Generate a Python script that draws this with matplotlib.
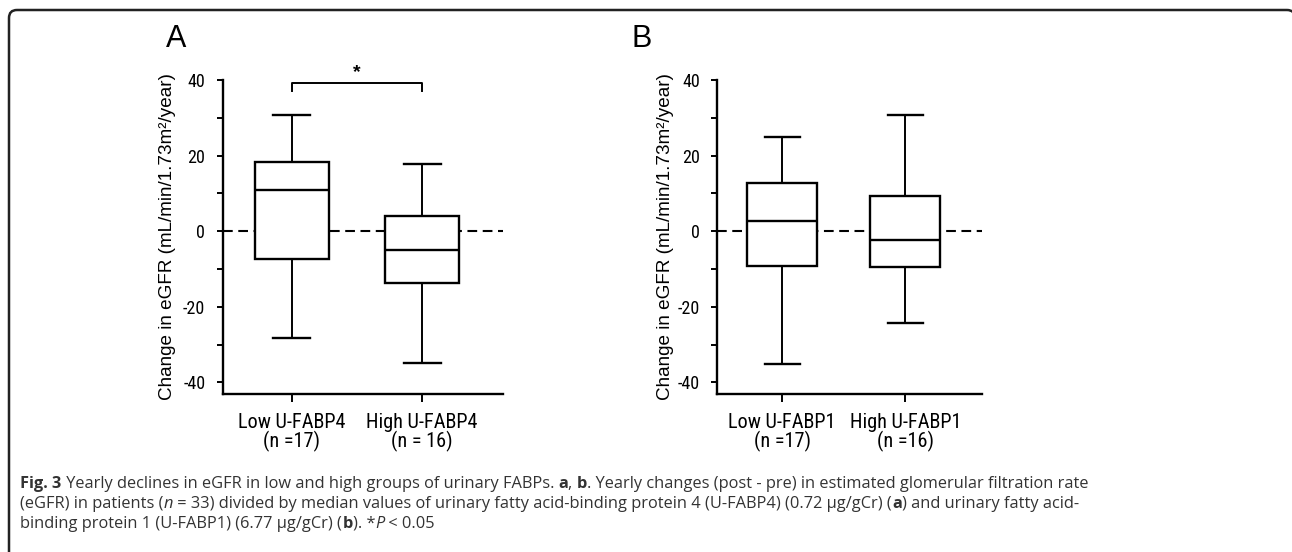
import matplotlib
matplotlib.use('Agg')
import matplotlib.pyplot as plt
from matplotlib.patches import PathPatch
from matplotlib.path import Path
from matplotlib.ticker import MultipleLocator
from matplotlib import font_manager as fm

W, H = 1292, 552

# box statistics: whislo, q1, med, q3, whishi
groups_a = ['Low U-FABP4\n(n =17)', 'High U-FABP4\n(n = 16)']
low_a = [-28.2, -7.4, 10.9, 18.4, 30.8]
high_a = [-35.0, -13.7, -5.1, 3.9, 17.9]

groups_b = ['Low U-FABP1\n(n =17)', 'High U-FABP1\n(n =16)']
low_b = [-35.1, -9.3, 2.8, 12.7, 24.8]
high_b = [-24.3, -9.5, -2.3, 9.4, 30.7]

ylab = 'Change in eGFR (mL/min/1.73m\u00b2/year)'

plt.rcParams['font.family'] = ['Liberation Sans', 'DejaVu Sans']
plt.rcParams['lines.scale_dashes'] = False
plt.rcParams['axes.unicode_minus'] = False

# look for a narrow sans for tick labels, the original looks condensed
names = {f.name for f in fm.fontManager.ttflist}
narrow, stretch = 'Liberation Sans', 'normal'
for cand in ['Liberation Sans Narrow', 'Arial Narrow', 'Roboto Condensed']:
    if cand in names:
        narrow = cand
        break
else:
    for f in fm.fontManager.ttflist:
        if f.name in ('Roboto', 'DejaVu Sans', 'Noto Sans') and 'ondensed' in f.fname:
            narrow, stretch = f.name, f.stretch
            break

fig = plt.figure(figsize=(W / 100, H / 100), dpi=100)
fig.canvas.draw()
r = fig.canvas.get_renderer()


def fit_size(s, target, cap):
    t = fig.text(0, 0, s, fontsize=10, family=narrow, fontstretch=stretch)
    w = t.get_window_extent(renderer=r).width
    t.remove()
    return min(cap, 10 * target / w)


xt_size = fit_size('Low U-FABP4', 108, 15)
yt_size = fit_size('40', 19, 13)


def px_axes(x0, x1, y_top, y_bot):
    return fig.add_axes([x0 / W, 1 - y_bot / H, (x1 - x0) / W, (y_bot - y_top) / H])


def panel(ax, stats, labels, xlim, lab_x):
    bs = []
    for s, lab in zip(stats, labels):
        bs.append(dict(whislo=s[0], q1=s[1], med=s[2], q3=s[3], whishi=s[4], label=lab))
    ax.axhline(0, color='black', lw=1.5, dashes=(7, 4), zorder=0)
    ax.bxp(bs, positions=[1, 2], widths=0.568, capwidths=0.284, showfliers=False,
           patch_artist=True,
           boxprops=dict(facecolor='white', edgecolor='black', lw=1.7),
           medianprops=dict(color='black', lw=1.7),
           whiskerprops=dict(color='black', lw=1.4),
           capprops=dict(color='black', lw=1.7), zorder=2)
    ax.set_xlim(*xlim)
    ax.set_ylim(-43.1, 40)
    ax.spines[['top', 'right']].set_visible(False)
    ax.spines['left'].set_bounds(-43.1, 40)
    for s in ['left', 'bottom']:
        ax.spines[s].set_linewidth(1.7)
    ax.yaxis.set_major_locator(MultipleLocator(20))
    ax.yaxis.set_minor_locator(MultipleLocator(10))
    ax.tick_params(axis='y', which='both', length=4.5, width=1.4, pad=8)
    ax.tick_params(axis='x', length=5.5, width=1.4, pad=8.5)
    for t in ax.get_yticklabels():
        t.set_fontfamily(narrow)
        t.set_fontstretch(stretch)
        t.set_fontsize(yt_size)
    for t in ax.get_xticklabels():
        t.set_fontfamily(narrow)
        t.set_fontstretch(stretch)
        t.set_fontsize(xt_size)
        t.set_linespacing(22 / (1.17 * xt_size * 100 / 72))
    ax.set_ylabel(ylab, fontsize=13.6)
    ax.yaxis.set_label_coords(lab_x, 0.5)


ax_a = px_axes(222.7, 503, 80, 394)
panel(ax_a, [low_a, high_a], groups_a, (0.47, 2.62), -0.165)
ax_b = px_axes(717.3, 981.7, 80, 394)
panel(ax_b, [low_b, high_b], groups_b, (0.475, 2.62), -0.163)

# significance bracket in panel A
ax_a.plot([1, 1, 2, 2], [37.2, 39.1, 39.1, 37.2], color='black', lw=1.4, clip_on=False)
ax_a.text(1.5, 39.8, '*', ha='center', va='bottom', fontsize=14, fontweight='bold')

fig.text(175.7 / W, 1 - 39 / H, 'A', fontsize=22, ha='center', va='center')
fig.text(642 / W, 1 - 39 / H, 'B', fontsize=22, ha='center', va='center')

# rounded frame, open towards the bottom, right side runs off the edge
R = 8
L_, T_, R_ = 9, 10, 1295
pts = [(L_, H + 10), (L_, T_ + R), (L_, T_), (L_ + R, T_), (R_ - R, T_),
       (R_, T_), (R_, T_ + R), (R_, H + 10)]
codes = [Path.MOVETO, Path.LINETO, Path.CURVE3, Path.CURVE3, Path.LINETO,
         Path.CURVE3, Path.CURVE3, Path.LINETO]
frame = PathPatch(Path([(x / W, 1 - y / H) for x, y in pts], codes),
                  transform=fig.transFigure, fill=False, lw=1.8,
                  edgecolor='#222222', clip_on=False)
fig.add_artist(frame)

# caption, drawn run by run
cap_lines = [
    [('Fig. 3', 'bold', 'normal'),
     (' Yearly declines in eGFR in low and high groups of urinary FABPs. ', 'normal', 'normal'),
     ('a', 'bold', 'normal'), (', ', 'normal', 'normal'), ('b', 'bold', 'normal'),
     ('. Yearly changes (post - pre) in estimated glomerular filtration rate', 'normal', 'normal')],
    [('(eGFR) in patients (', 'normal', 'normal'), ('n', 'normal', 'italic'),
     (' = 33) divided by median values of urinary fatty acid-binding protein 4 (U-FABP4) (0.72 \u00b5g/gCr) (', 'normal', 'normal'),
     ('a', 'bold', 'normal'),
     (') and urinary fatty acid-', 'normal', 'normal')],
    [('binding protein 1 (U-FABP1) (6.77 \u00b5g/gCr) (', 'normal', 'normal'),
     ('b', 'bold', 'normal'), ('). *', 'normal', 'normal'), ('P', 'normal', 'italic'),
     (' < 0.05', 'normal', 'normal')],
]
cap_y = [482, 502, 522]
for runs, yy in zip(cap_lines, cap_y):
    x = 20.5
    for s, wgt, sty in runs:
        t = fig.text(x / W, 1 - yy / H, s, fontsize=11.8, fontweight=wgt, fontstyle=sty,
                     family=['Open Sans', 'DejaVu Sans'], color='#333333',
                     ha='left', va='center_baseline')
        x += t.get_window_extent(renderer=r).width

fig.savefig('out.png', dpi=100)
